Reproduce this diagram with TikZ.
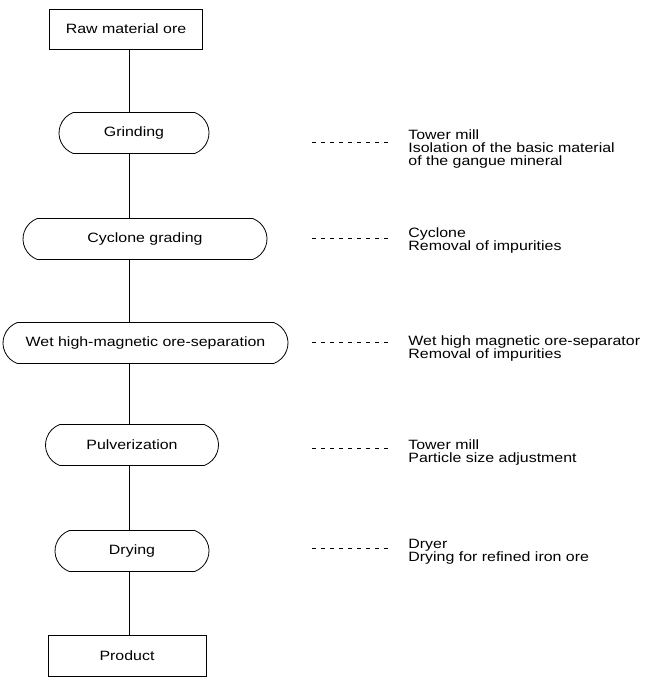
\documentclass[tikz,border=0pt]{standalone}
\usepackage{fontspec}
\setmainfont[FakeStretch=1.18]{Liberation Sans}
\usetikzlibrary{positioning,shapes.misc}

\begin{document}
\begin{tikzpicture}[x=1pt, y=-1pt, line width=0.8pt,
  every node/.style={font=\fontsize{13.5}{13.3}\selectfont},
  stepbox/.style={draw, rectangle, minimum height=40pt, inner sep=2pt},
  stage/.style={draw, rounded rectangle, rounded rectangle arc length=140,
    minimum height=41pt, inner sep=2pt},
  note/.style={align=left, anchor=north west, inner sep=0pt},
  guide/.style={dash pattern=on 4pt off 5pt, shorten >=18pt}]
  \useasboundingbox (0,0) rectangle (646,677);
  \coordinate (spine) at (129,0);

  \node[stepbox, minimum width=153pt] (raw)     at (126,29)  {Raw material ore};
  \node[stage, minimum width=154pt]   (grind)   at (134,133) {Grinding};
  \node[stage, minimum width=248pt]   (cyclone) at (145,239) {Cyclone grading};
  \node[stage, minimum width=289pt]   (wet)     at (145.5,343) {Wet high-magnetic ore-separation};
  \node[stage, minimum width=177pt]   (pulver)  at (132,445) {Pulverization};
  \node[stage, minimum width=158pt]   (dry)     at (132,551) {Drying};
  \node[stepbox, minimum width=158pt, minimum height=41pt] (product) at (127,656) {Product};

  \foreach \a/\b in {raw/grind, grind/cyclone, cyclone/wet, wet/pulver, pulver/dry, dry/product}{%
    \draw (\a.south -| spine) -- (\b.north -| spine);
  }

  % equipment and purpose of each stage
  \foreach \n/\d/\b/\t in {%
      grind/142/129/{Tower mill\\Isolation of the basic material\\of the gangue mineral},
      cyclone/238/227/{Cyclone\\Removal of impurities},
      wet/342/335/{Wet high magnetic ore-separator\\Removal of impurities},
      pulver/448/439/{Tower mill\\Particle size adjustment},
      dry/548/539/{Dryer\\Drying for refined iron ore}}{%
    \coordinate (d\n) at (312,\d);
    \node[note] (note\n) at (408,\b) {\t};
    \draw[guide] (d\n) -- (d\n -| note\n.west);
  }
\end{tikzpicture}
\end{document}
